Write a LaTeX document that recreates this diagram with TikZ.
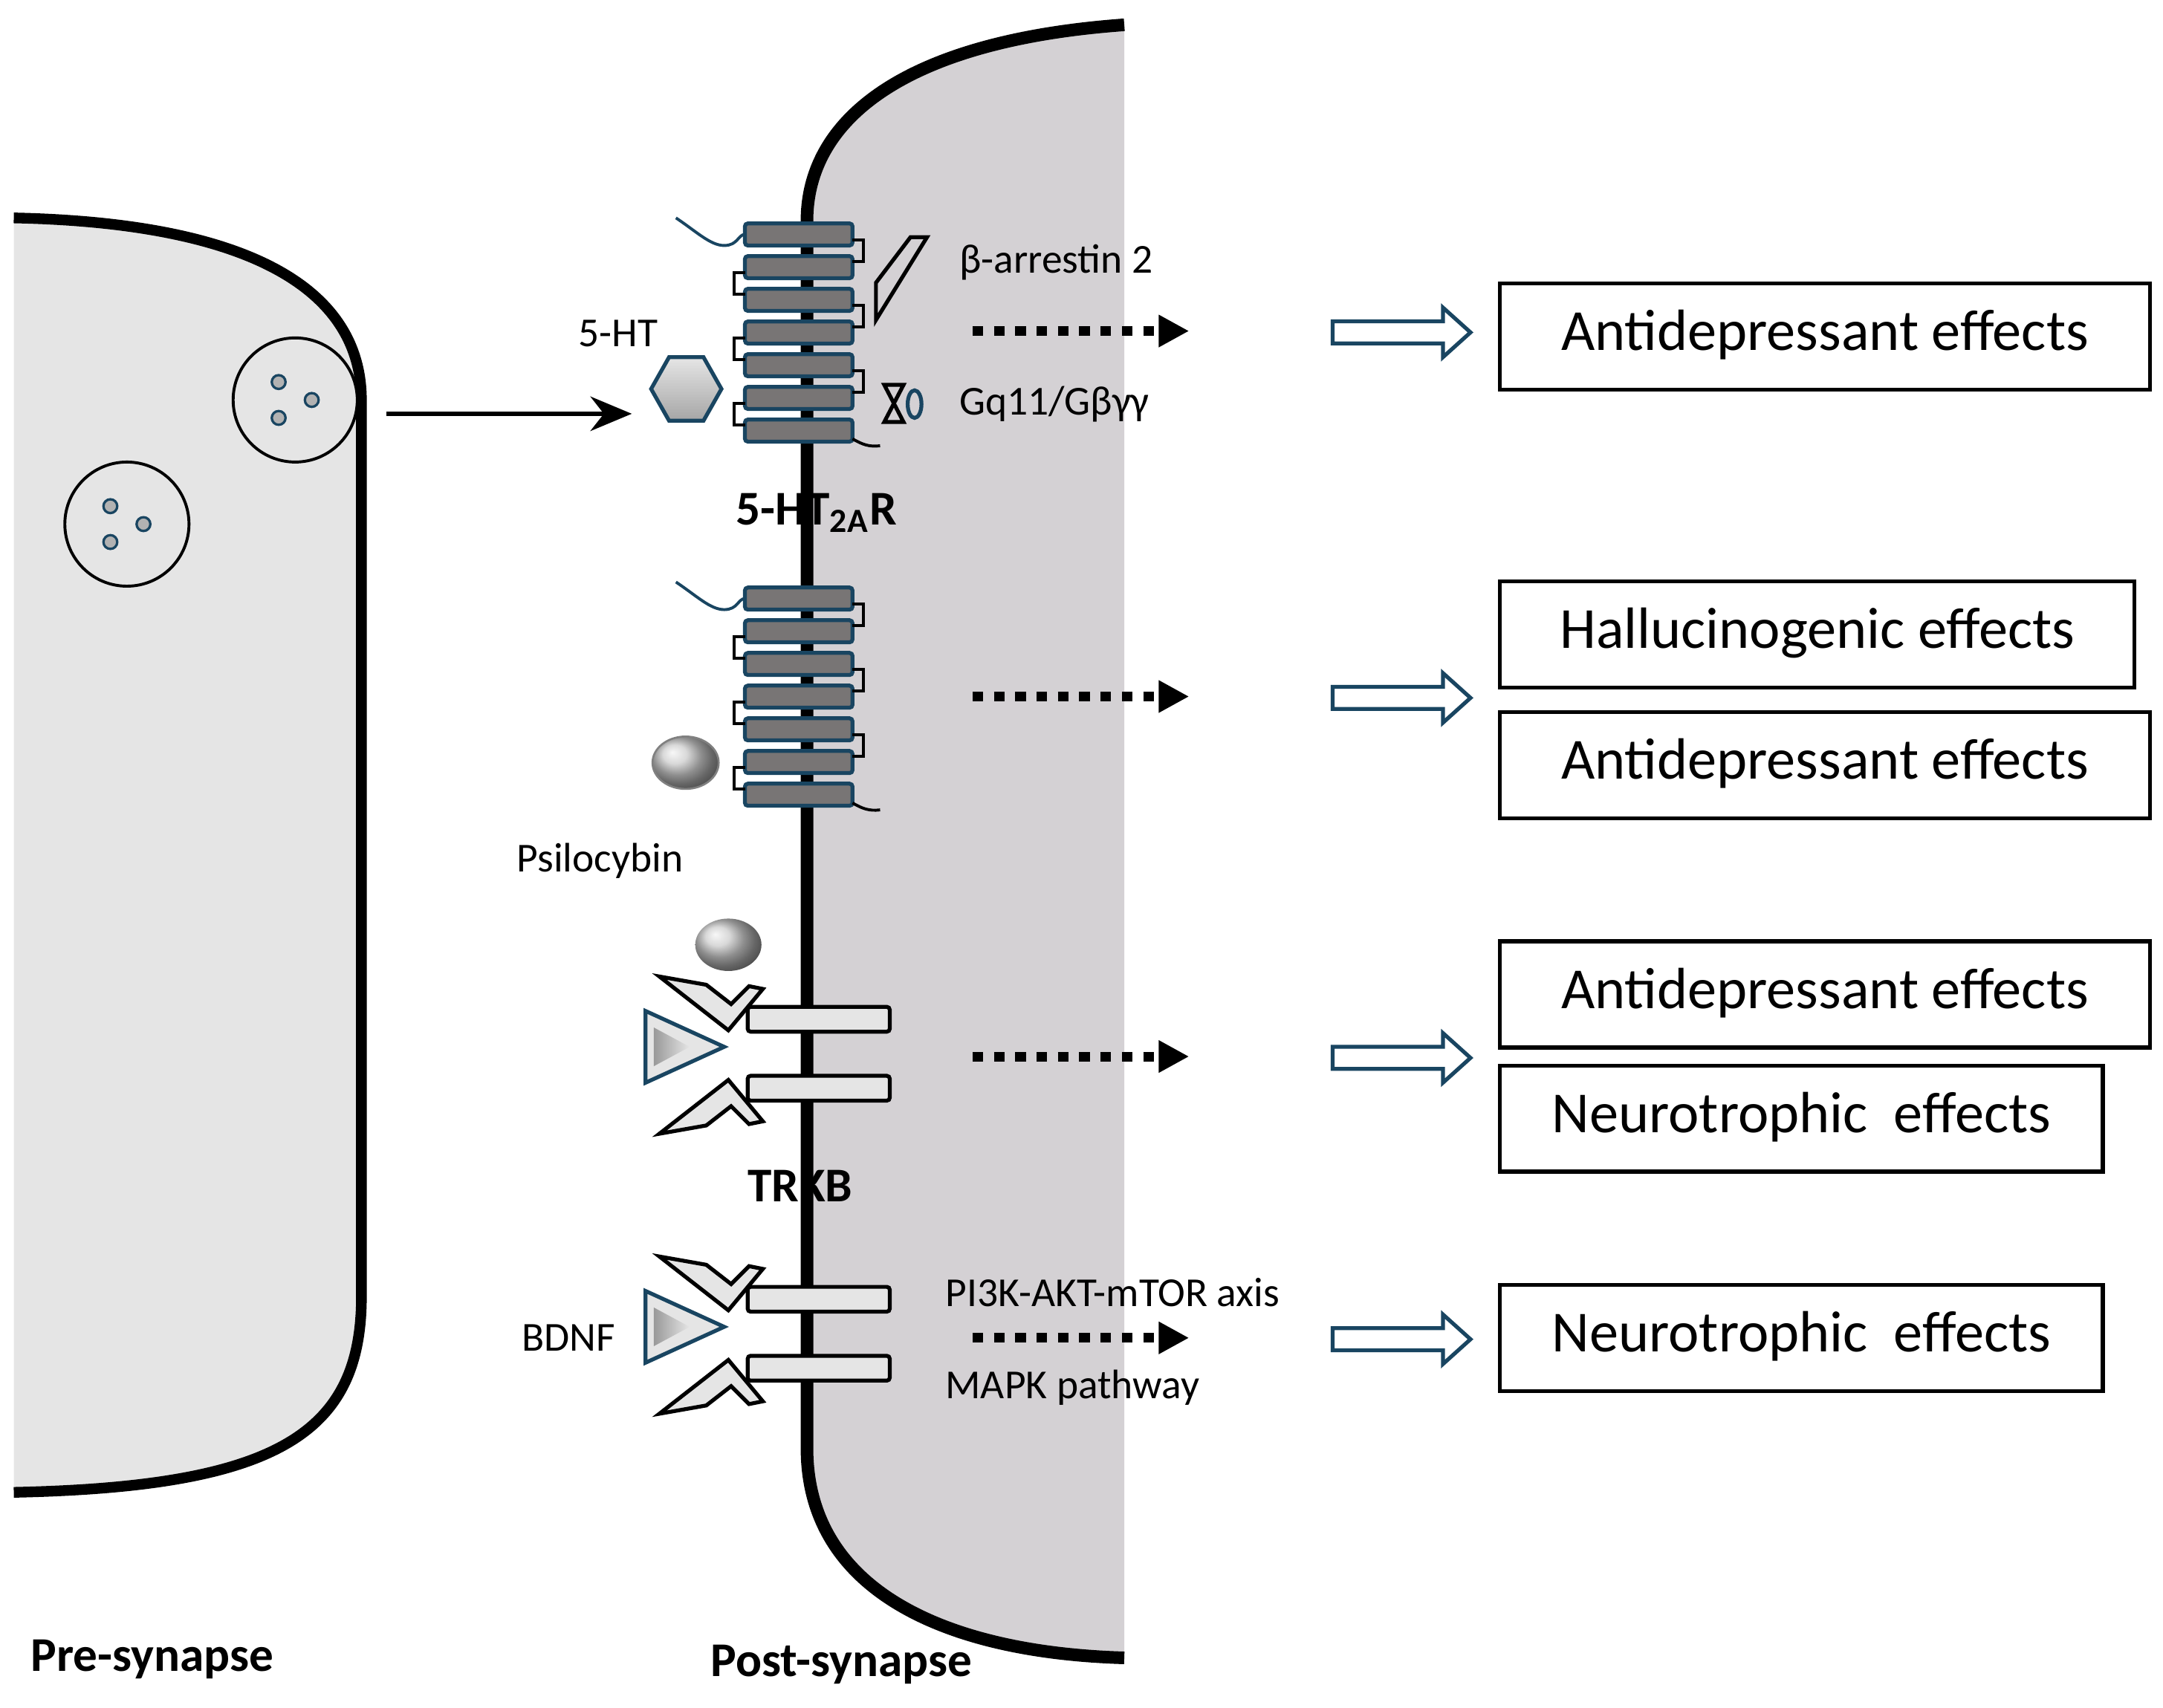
\documentclass[tikz,border=0pt]{standalone}
\usepackage{fontspec}
\setmainfont{Carlito}
\usetikzlibrary{arrows.meta}
\definecolor{tmblue}{rgb}{0.1,0.27,0.38}
\definecolor{barfill}{rgb}{0.47,0.46,0.46}
\definecolor{postfill}{rgb}{0.83,0.82,0.83}
\definecolor{prefill}{rgb}{0.9,0.9,0.9}
\tikzset{
  effect/.style={draw=black, line width=0.8pt, minimum height=7.7mm, inner xsep=2mm, anchor=west, font=\fontsize{12}{14}\selectfont, text height=2.8mm, text depth=0.8mm},
  lbl/.style={font=\fontsize{8.5}{10}\selectfont},
  blbl/.style={font=\fontsize{10}{12}\selectfont\bfseries},
  dotarrow/.style={line width=2pt, dash pattern=on 2.2pt off 2.2pt, -{Triangle[length=2.2mm,width=2.2mm]}},
  hollow/.style={draw=tmblue, line width=0.8pt, fill=white},
  bar/.style={draw=tmblue, fill=barfill, line width=0.8pt, rounded corners=0.6pt},
  tkbar/.style={draw=black, fill=prefill, line width=0.8pt, rounded corners=0.6pt},
  chev/.style={draw=black, fill=prefill, line width=0.8pt},
  loop/.style={draw=black, line width=0.6pt}
}
\newcommand{\gpcrbars}[1]{%
  \begin{scope}[shift={(0,#1)}]
    \draw[tmblue, line width=0.6pt] (490,-12) .. controls (505,-2) and (515,8) .. (525,8) .. controls (535,8) and (535,0) .. (540,0);
    \foreach \k in {0,...,6} \draw[bar] (540,\k*23.7-8) rectangle (618,\k*23.7+8);
    \foreach \k/\s in {0/1,2/1,4/1} \draw[loop] (618,\k*23.7+4) -- (626,\k*23.7+4) -- (626,\k*23.7+23.7-4) -- (618,\k*23.7+23.7-4);
    \foreach \k in {1,3,5} \draw[loop] (540,\k*23.7+4) -- (532,\k*23.7+4) -- (532,\k*23.7+23.7-4) -- (540,\k*23.7+23.7-4);
    \draw[black, line width=0.6pt] (618,6*23.7+6) .. controls (625,6*23.7+10) and (630,6*23.7+12) .. (638,6*23.7+11);
  \end{scope}}
\newcommand{\trkb}[1]{%
  \begin{scope}[shift={(0,#1)}]
    \draw[chev] (478,-22) -- (512,-16) -- (530,-2) -- (543,-15) -- (553,-13) -- (528,17) -- cycle;
    \draw[chev] (478,92) -- (512,86) -- (530,72) -- (543,85) -- (553,83) -- (528,53) -- cycle;
    \draw[tkbar] (542,0) rectangle (645,18);
    \draw[tkbar] (542,50) rectangle (645,68);
    \draw[draw=tmblue, fill=prefill, line width=0.8pt] (468,3) -- (525,29) -- (468,55) -- cycle;
    \shade[left color=gray!80, right color=gray!20] (474,15) -- (500,29) -- (474,43) -- cycle;
  \end{scope}}
\begin{document}
\begin{tikzpicture}[x=0.1mm,y=-0.1mm]
\useasboundingbox (0,0) rectangle (1568,1238);
% pre-synapse
\fill[prefill] (10,158) .. controls (200,162) and (262,220) .. (262,290) -- (262,940) .. controls (262,1040) and (200,1078) .. (10,1082) -- cycle;
\draw[line width=2.2pt] (10,158) .. controls (200,162) and (262,220) .. (262,290) -- (262,940) .. controls (262,1040) and (200,1078) .. (10,1082);
\foreach \cx/\cy in {214/290, 92/380} {
  \draw[black, line width=0.6pt, fill=prefill] (\cx,\cy) circle (45);
  \foreach \dx/\dy in {-12/-13, -12/13, 12/0}
    \draw[tmblue, fill=gray!60, line width=0.5pt] (\cx+\dx,\cy+\dy) circle (5);
}
% post-synapse
\fill[postfill] (815,18) .. controls (650,30) and (585,90) .. (585,160) -- (585,1050) .. controls (585,1150) and (680,1198) .. (815,1202) -- cycle;
\draw[line width=2.6pt] (815,18) .. controls (650,30) and (585,90) .. (585,160) -- (585,1050) .. controls (585,1150) and (680,1198) .. (815,1202);
% 5-HT2A receptor with 5-HT
\gpcrbars{170}
\node[regular polygon/.try] at (0,0) {};
\draw[tmblue, line width=0.8pt, top color=gray!20, bottom color=gray!70] (472,282) -- (485,259) -- (510,259) -- (523,282) -- (510,305) -- (485,305) -- cycle;
\node[lbl] (ht) at (448,242) {5-HT};
\coordinate (a0) at (280,300);
\coordinate (a1) at (458,300);
\draw[line width=0.8pt, -{Stealth[length=3mm,width=2.5mm]}] (a0) -- (a1);
\draw[line width=0.8pt] (660,172) -- (672,172) -- (635,232) -- (635,205) -- cycle;
\node[lbl, anchor=west] (barr) at (683,190) {β-arrestin 2};
\draw[line width=0.8pt] (641,279) -- (655,279) -- (641,306) -- (655,306) -- cycle;
\draw[tmblue, line width=0.8pt] (663,293) ellipse (5 and 10);
\node[lbl, anchor=west] (gq) at (683,293) {Gq11/Gβγγ};
\node[blbl] (r1) at (592,372) {5-HT\textsubscript{2A}R};
% receptor with psilocybin
\gpcrbars{434}
\shade[ball color=gray!40, draw=gray] (497,553) ellipse (24 and 19);
\node[lbl] (psi) at (435,624) {Psilocybin};
\shade[ball color=gray!40] (528,685) ellipse (24 and 19);
% TRKB
\trkb{730}
\node[blbl] (tk) at (580,860) {TRKB};
\trkb{933}
\node[lbl] (bdnf) at (412,970) {BDNF};
\node[lbl, anchor=west] (pi3k) at (673,937) {PI3K-AKT-mTOR axis};
\node[lbl, anchor=west] (mapk) at (673,1006) {MAPK pathway};
% dotted arrows and hollow arrows
\foreach \y/\n in {240/1, 505/2, 766/3, 970/4} {
  \coordinate (d\n a) at (705,\y);
  \coordinate (d\n b) at (862,\y);
  \draw[dotarrow] (d\n a) -- (d\n b);
  \draw[hollow] (966,\y-7) -- (1046,\y-7) -- (1046,\y-17) -- (1066,\y+1) -- (1046,\y+19) -- (1046,\y+9) -- (966,\y+9) -- cycle;
}
% effect boxes
\node[effect, minimum width=47.1mm] (e1) at (1086,244) {Antidepressant effects};
\node[effect, minimum width=46mm] (e2) at (1086,460) {Hallucinogenic effects};
\node[effect, minimum width=47.1mm] (e3) at (1086,555) {Antidepressant effects};
\node[effect, minimum width=47.1mm] (e4) at (1086,721) {Antidepressant effects};
\node[effect, minimum width=43.7mm] (e5) at (1086,811) {Neurotrophic\ \ effects};
\node[effect, minimum width=43.7mm] (e6) at (1086,970) {Neurotrophic\ \ effects};
% bottom labels
\node[blbl, anchor=west] (pre) at (10,1203) {Pre-synapse};
\node[blbl] (post) at (610,1207) {Post-synapse};
\end{tikzpicture}
\end{document}
